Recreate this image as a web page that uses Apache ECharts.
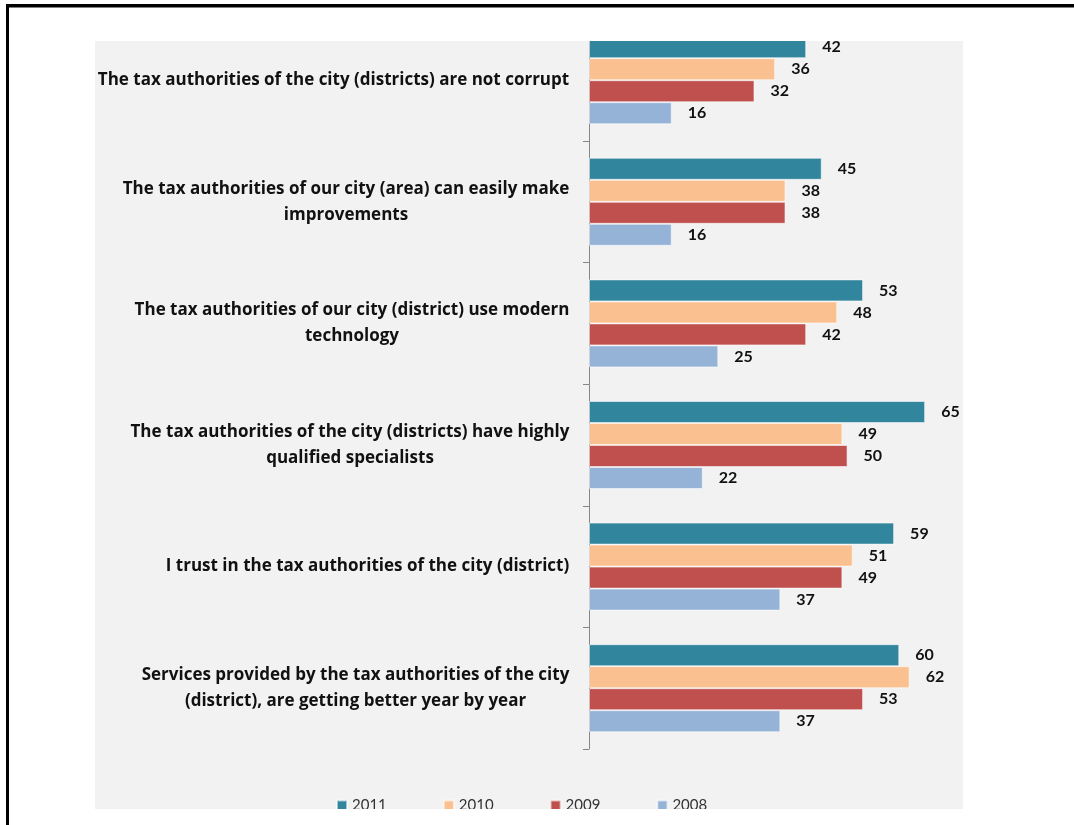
<!DOCTYPE html>
<html>
<head>
<meta charset="utf-8">
<script src="https://cdn.jsdelivr.net/npm/echarts@6/dist/echarts.min.js"></script>
<style>
  html, body { margin: 0; padding: 0; background: #ffffff; }
  #chart { width: 1074px; height: 825px; }
</style>
</head>
<body>
<div id="chart"></div>
<script>
// Survey statements, listed top to bottom
const categories = [
  'The tax authorities of the city (districts) are not corrupt',
  'The tax authorities of our city (area) can easily make\nimprovements',
  'The tax authorities of our city (district) use modern\ntechnology',
  'The tax authorities of the city (districts) have highly\nqualified specialists',
  'I trust in the tax authorities of the city (district)',
  'Services provided by the tax authorities of the city\n(district), are getting better year by year'
];
const years = ['2011', '2010', '2009', '2008'];
const values2011 = [42, 45, 53, 65, 59, 60];
const values2010 = [36, 38, 48, 49, 51, 62];
const values2009 = [32, 38, 42, 50, 49, 53];
const values2008 = [16, 16, 25, 22, 37, 37];

const seriesValues = [values2011, values2010, values2009, values2008];
const colors = ['#31859C', '#FAC090', '#C0504D', '#95B3D7'];

const LABEL_FAMILY = 'Open Sans';
const LABEL_SIZE = 17;

// Each multi-line label is centred within its own block; measure the widest line.
const ctx = document.createElement('canvas').getContext('2d');
ctx.font = 'bold ' + LABEL_SIZE + 'px "' + LABEL_FAMILY + '"';
const rich = {};
categories.forEach((c, i) => {
  const w = Math.max(...c.split('\n').map(l => ctx.measureText(l).width));
  rich['c' + i] = {
    width: Math.ceil(w) + 1,
    align: 'center',
    fontFamily: LABEL_FAMILY,
    fontWeight: 'bold',
    fontSize: LABEL_SIZE,
    lineHeight: 26,
    color: '#111111'
  };
});

const chart = echarts.init(document.getElementById('chart'), null, { renderer: 'canvas' });

chart.setOption({
  animation: false,
  textStyle: { fontFamily: 'Lato' },
  graphic: [
    { type: 'rect', z: -10, shape: { x: 95, y: 41, width: 868, height: 768 }, style: { fill: '#f2f2f2' } },
    { type: 'rect', z: 100, shape: { x: 9, y: 8, width: 1065, height: 33 }, style: { fill: '#ffffff' } },
    { type: 'rect', z: 100, shape: { x: 9, y: 809, width: 1065, height: 16 }, style: { fill: '#ffffff' } },
    { type: 'rect', z: 101, shape: { x: 6, y: 4, width: 1068, height: 3.5 }, style: { fill: '#000000' } },
    { type: 'rect', z: 101, shape: { x: 6, y: 4, width: 3, height: 821 }, style: { fill: '#000000' } }
  ],
  legend: {
    data: years,
    left: 331,
    top: 793,
    itemWidth: 10,
    itemHeight: 10,
    itemGap: 56,
    textStyle: { fontFamily: 'Lato', fontSize: 15, color: '#333333' },
    icon: 'rect'
  },
  grid: { left: 589, right: 123, top: 19.4, bottom: 76, containLabel: false },
  xAxis: {
    type: 'value',
    min: 0,
    max: 70,
    show: false
  },
  yAxis: {
    type: 'category',
    inverse: true,
    data: categories,
    axisLine: { show: true, lineStyle: { color: '#868686', width: 1 } },
    axisTick: { show: true, inside: false, length: 6, alignWithLabel: false, lineStyle: { color: '#868686', width: 1 } },
    axisLabel: {
      margin: 19,
      align: 'right',
      formatter: (v, i) => v.split('\n').map(l => '{c' + i + '|' + l + '}').join('\n'),
      rich: rich
    }
  },
  series: years.map((y, k) => ({
    name: y,
    type: 'bar',
    data: seriesValues[k],
    barWidth: 22,
    barGap: '0%',
    itemStyle: { color: colors[k], borderColor: 'rgba(255,255,255,0.55)', borderWidth: 1 },
    label: {
      show: true,
      position: 'right',
      distance: 16,
      fontFamily: 'Lato',
      fontWeight: 'bold',
      fontSize: 16,
      color: '#111111'
    }
  }))
});
</script>
</body>
</html>
